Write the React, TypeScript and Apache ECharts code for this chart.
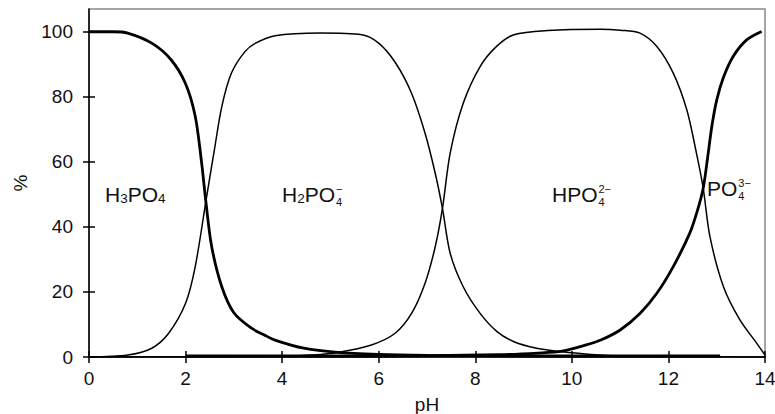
import React, { useEffect, useRef } from "react";
import * as echarts from "echarts";

// ---- data (pH, % of species) ----
const h3po4Ph = [0, 0.5, 0.8, 1.3, 1.7, 2.0, 2.2, 2.33, 2.42, 2.54, 2.75, 3.0, 3.35, 3.65, 3.85, 4.45, 5.15, 6.0, 7.0, 8.0, 10.0, 13.07];
const h3po4Pct = [100, 100, 99.6, 96.5, 91.4, 84, 74, 60, 47.8, 34, 21.6, 13.6, 9, 6.6, 5.2, 2.7, 1.4, 0.8, 0.5, 0.4, 0.3, 0.3];

const h2po4Ph = [0, 0.8, 1.3, 1.65, 2.0, 2.2, 2.42, 2.6, 2.75, 2.95, 3.23, 3.45, 3.85, 4.8, 5.65, 6.0, 6.35, 6.68, 6.96, 7.17, 7.32, 7.48, 7.75, 8.1, 8.45, 8.8, 9.27, 9.8, 10.4, 11.0, 12.0, 14.0];
const h2po4Pct = [0, 0.6, 2.7, 7.3, 16.5, 27.8, 47.8, 64, 77, 87.3, 93.9, 96.5, 98.8, 99.6, 99.1, 96.5, 90.4, 81.1, 68.8, 56.5, 45.7, 31.9, 21.6, 13.4, 7.8, 4.7, 2.7, 1.6, 0.8, 0.3, 0.1, 0];

const hpo4Ph = [0, 4.0, 4.6, 5.15, 5.85, 6.34, 6.68, 6.96, 7.17, 7.32, 7.48, 7.75, 8.1, 8.44, 8.8, 9.5, 10.6, 11.0, 11.41, 11.76, 12.1, 12.38, 12.58, 12.72, 12.86, 13.14, 13.48, 13.83, 14.0];
const hpo4Pct = [0, 0.2, 0.6, 1.4, 3.7, 7.3, 13.4, 22.7, 33.9, 45.7, 62.7, 78, 89.3, 95.5, 99.1, 100.4, 100.8, 100.5, 99.6, 95.5, 87.3, 76, 62.7, 51.9, 37, 21.6, 11.4, 4.2, 0.6];

const po4Ph = [2.0, 6.0, 8.5, 9.3, 9.8, 10.3, 10.6, 11.0, 11.41, 11.76, 12.1, 12.44, 12.6, 12.72, 12.8, 12.9, 13.0, 13.14, 13.34, 13.62, 13.93];
const po4Pct = [0.3, 0.3, 0.7, 1.2, 1.8, 3.7, 5.2, 8.3, 13.4, 19.6, 27.8, 38, 45, 51.9, 60, 71, 79, 86, 92.4, 97.5, 100.1];

const xTicks = [0, 2, 4, 6, 8, 10, 12, 14];
const yTicks = [0, 20, 40, 60, 80, 100];

const FONT = "'Liberation Sans', Arial, sans-serif";
const TXT = "#111";

const W: Record<string, number> = { H: 0.722, P: 0.667, O: 0.778, "−": 0.584 };
const tw = (s: string, f: number) => [...s].reduce((a, c) => a + (W[c] ?? 0.556) * f, 0);

type Part = { t: string; k: "m" | "b" | "s"; sub?: string };
function chem(x0: number, yMid: number, parts: Part[]) {
  const F = 21;
  const S = 13.5;
  const SS = 11;
  const children: any[] = [];
  let x = x0;
  const txt = (t: string, xx: number, yy: number, f: number, lh?: number) => ({
    type: "text",
    x: xx,
    y: yy,
    style: {
      text: t,
      fontSize: f,
      fontFamily: FONT,
      fill: TXT,
      align: "left",
      verticalAlign: "middle",
      ...(lh ? { lineHeight: lh } : {}),
    },
  });
  for (const p of parts) {
    if (p.k === "m") {
      children.push(txt(p.t, x, yMid, F));
      x += tw(p.t, F);
    } else if (p.k === "b") {
      children.push(txt(p.t, x, yMid + 4, S));
      x += tw(p.t, S);
    } else {
      // superscript stacked over subscript, as one two-line text
      x += 1;
      children.push(txt(p.t + "\n" + (p.sub || ""), x, yMid + 1.5, SS, 13.5));
      x += Math.max(tw(p.t, SS), tw(p.sub || "", SS));
    }
  }
  return { type: "group", children };
}

const pairs = (xs: number[], ys: number[]) => xs.map((x, i) => [x, ys[i]]);

export default function App() {
  const ref = useRef<HTMLDivElement>(null);
  useEffect(() => {
    document.body.style.margin = "0";
    if (!ref.current) return;
    const chart = echarts.init(ref.current, null, { renderer: "svg" });
    const lineSeries = (name: string, data: number[][], width: number) => ({
      name,
      type: "line",
      data,
      smooth: 0.3,
      symbol: "none",
      lineStyle: { color: "#000", width },
      xAxisIndex: 0,
      yAxisIndex: 0,
      z: 3,
    });
    const axisText = { fontSize: 19, color: TXT, fontFamily: FONT };
    chart.setOption({
      animation: false,
      backgroundColor: "#fff",
      grid: {
        left: 89,
        right: 10,
        top: 9,
        bottom: 57,
        show: true,
        borderColor: "#888",
        borderWidth: 1.5,
        containLabel: false,
        outerBoundsMode: "none",
      },
      xAxis: [
        {
          type: "value",
          min: 0,
          max: 14,
          interval: 2,
          position: "bottom",
          axisLine: { lineStyle: { color: "#000", width: 1.5 } },
          axisTick: { length: 6, lineStyle: { color: "#000", width: 1.5 }, customValues: xTicks },
          axisLabel: { ...axisText, margin: 12, customValues: xTicks },
          splitLine: { show: false },
          name: "pH",
          nameLocation: "middle",
          nameGap: 38,
          nameTextStyle: axisText,
        },
        {
          type: "value",
          min: 0,
          max: 14,
          interval: 2,
          position: "bottom",
          axisLine: { show: false },
          axisTick: { inside: true, length: 6, lineStyle: { color: "#000", width: 1.5 }, customValues: xTicks },
          axisLabel: { show: false },
          splitLine: { show: false },
        },
      ],
      yAxis: [
        {
          type: "value",
          min: 0,
          max: 107,
          position: "left",
          axisLine: { show: true, lineStyle: { color: "#000", width: 1.5 } },
          axisTick: { show: true, length: 6, lineStyle: { color: "#000", width: 1.5 }, customValues: yTicks },
          axisLabel: { ...axisText, margin: 16, customValues: yTicks },
          splitLine: { show: false },
          name: "%",
          nameLocation: "middle",
          nameGap: 58,
          nameRotate: 90,
          nameTextStyle: axisText,
        },
        {
          type: "value",
          min: 0,
          max: 107,
          position: "left",
          axisLine: { show: false },
          axisTick: { show: true, inside: true, length: 6, lineStyle: { color: "#000", width: 1.5 }, customValues: yTicks },
          axisLabel: { show: false },
          splitLine: { show: false },
        },
      ],
      series: [
        lineSeries("H3PO4", pairs(h3po4Ph, h3po4Pct), 2.8),
        lineSeries("H2PO4-", pairs(h2po4Ph, h2po4Pct), 1.5),
        lineSeries("HPO4 2-", pairs(hpo4Ph, hpo4Pct), 1.5),
        lineSeries("PO4 3-", pairs(po4Ph, po4Pct), 2.8),
      ],
      graphic: [
        chem(105, 194, [
          { t: "H", k: "m" },
          { t: "3", k: "b" },
          { t: "PO", k: "m" },
          { t: "4", k: "b" },
        ]),
        chem(282, 194, [
          { t: "H", k: "m" },
          { t: "2", k: "b" },
          { t: "PO", k: "m" },
          { t: "−", k: "s", sub: "4" },
        ]),
        chem(552, 194, [
          { t: "HPO", k: "m" },
          { t: "2−", k: "s", sub: "4" },
        ]),
        chem(707, 188, [
          { t: "PO", k: "m" },
          { t: "3−", k: "s", sub: "4" },
        ]),
      ],
    });
    return () => chart.dispose();
  }, []);
  return <div ref={ref} style={{ width: 775, height: 414 }} />;
}
